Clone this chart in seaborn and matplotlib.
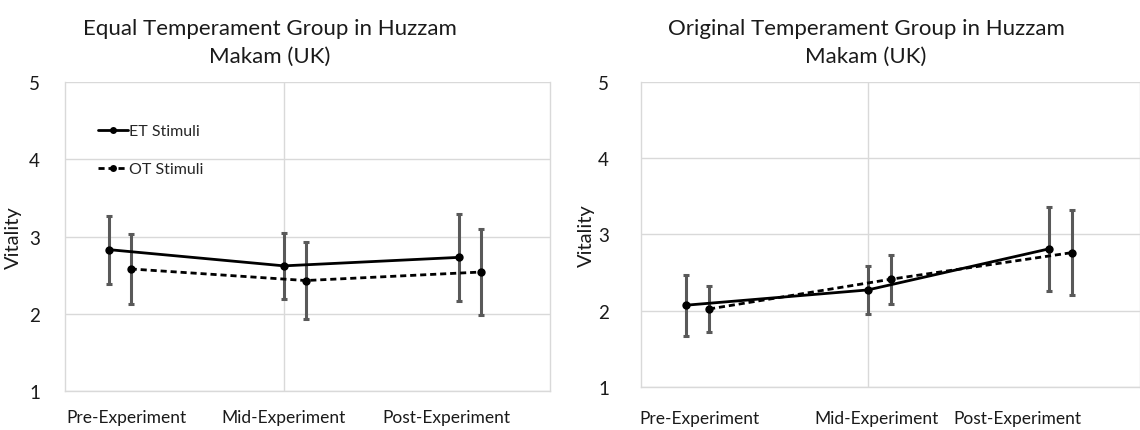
import matplotlib
matplotlib.use("Agg")
import matplotlib.pyplot as plt
import seaborn as sns
import pandas as pd

# Vitality ratings (mean and error) per stimulus set across the three stages
stages = ["Pre-Experiment", "Mid-Experiment", "Post-Experiment"]
stimuli = ["ET Stimuli", "OT Stimuli"]

# Equal Temperament group
eq_et_mean = [2.83, 2.62, 2.73]
eq_et_err = [0.44, 0.43, 0.56]
eq_ot_mean = [2.58, 2.43, 2.54]
eq_ot_err = [0.45, 0.50, 0.56]

# Original Temperament group
og_et_mean = [2.07, 2.27, 2.81]
og_et_err = [0.40, 0.31, 0.55]
og_ot_mean = [2.02, 2.41, 2.76]
og_ot_err = [0.30, 0.32, 0.56]

titles = ["Equal Temperament Group in Huzzam\nMakam (UK)",
          "Original Temperament Group in Huzzam\nMakam (UK)"]
y_ticks = [1, 2, 3, 4, 5]

sns.set_theme(style="white")
plt.rcParams["font.family"] = ["Lato", "DejaVu Sans"]

GRID = "#d9d9d9"
ERR = "#595959"
TXT = "#1a1a1a"


def stage_x(i, series):
    # stages sit at 0.2 / 1.0 / 1.8 along the axis, second series nudged right
    base = [0.2, 1.0, 1.8][i]
    return base + (0.1 if series == 1 else 0.0)


def build_frame(et_mean, et_err, ot_mean, ot_err):
    rows = []
    for s, (means, errs) in enumerate([(et_mean, et_err), (ot_mean, ot_err)]):
        for i, st in enumerate(stages):
            rows.append({"x": stage_x(i, s), "Vitality": means[i],
                         "err": errs[i], "Stimuli": stimuli[s], "Stage": st})
    return pd.DataFrame(rows)


fig = plt.figure(figsize=(11.4, 4.31), dpi=100)
ax_l = fig.add_axes([0.0570, 0.0905, 0.4254, 0.7169])
ax_r = fig.add_axes([0.5623, 0.1005, 0.4377, 0.7070])

panels = [
    (ax_l, build_frame(eq_et_mean, eq_et_err, eq_ot_mean, eq_ot_err), 2.215,
     [0.28, 1.0, 1.74], 270, 18, 22, 13),
    (ax_r, build_frame(og_et_mean, og_et_err, og_ot_mean, og_ot_err), 2.2,
     [0.256, 1.04, 1.66], 866, 23, 595, 17),
]

for idx, (ax, df, xmax, label_pos, title_x, ypad, ylabel_x, xpad) in enumerate(panels):
    # whiskers first so the lines and markers sit on top
    for s in stimuli:
        sub = df[df["Stimuli"] == s]
        ax.errorbar(sub["x"], sub["Vitality"], yerr=sub["err"], fmt="none",
                    ecolor=ERR, elinewidth=2.2, capsize=2.4, capthick=2.2,
                    zorder=2)
    sns.lineplot(data=df, x="x", y="Vitality", style="Stimuli",
                 style_order=stimuli, dashes={"ET Stimuli": "",
                                              "OT Stimuli": (2.2, 1.4)},
                 markers={"ET Stimuli": "o", "OT Stimuli": "o"},
                 color="black", linewidth=2.0, markersize=6,
                 markeredgewidth=0, sort=False, estimator=None,
                 legend=(idx == 0), ax=ax, zorder=3)

    ax.set_xlim(0, xmax)
    ax.set_ylim(1, 5)
    ax.set_yticks(y_ticks)
    ax.set_yticklabels([str(v) for v in y_ticks])
    ax.set_xticks(label_pos)
    ax.set_xticklabels(stages)
    ax.tick_params(axis="both", length=0, colors=TXT)
    ax.tick_params(axis="x", pad=xpad, labelsize=12.5)
    ax.tick_params(axis="y", pad=ypad, labelsize=13.5)
    for v in y_ticks:
        ax.axhline(v, color=GRID, lw=1.0, zorder=0)
    ax.axvline(1.0, color=GRID, lw=1.0, zorder=0)
    for sp in ax.spines.values():
        sp.set_color(GRID)
        sp.set_linewidth(1.0)
    ax.spines["top"].set_visible(False)
    ax.set_xlabel("")
    ax.set_ylabel("Vitality", fontsize=14.5, color=TXT)
    ax.yaxis.set_label_coords((ylabel_x - ax.get_position().x0 * 1140)
                              / (ax.get_position().width * 1140), 0.5)
    fig.text(title_x / 1140, 1 - 43 / 431, titles[idx], ha="center",
             va="center", fontsize=16, color=TXT, linespacing=1.45)

leg = ax_l.legend(loc="upper left", bbox_to_anchor=(0.055, 0.885),
                  frameon=False, fontsize=11.5, handlelength=1.9,
                  handletextpad=0.05, labelspacing=1.5,
                  borderaxespad=0)
for line in leg.get_lines():
    line.set_linewidth(2.0)
    line.set_markersize(5)

fig.savefig("out.png", dpi=100, facecolor="white")
